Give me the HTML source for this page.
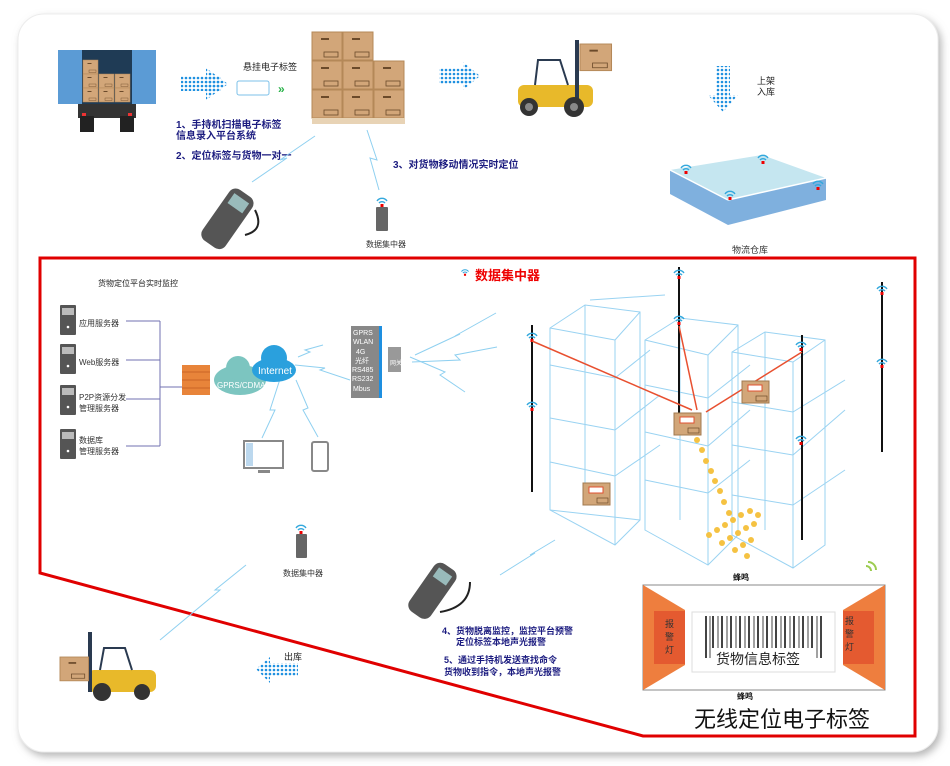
<!DOCTYPE html>
<html><head><meta charset="utf-8"><style>
html,body{margin:0;padding:0;background:#fff;}
svg{display:block;font-family:"Liberation Sans","Noto Sans CJK SC",sans-serif;}
</style></head><body>
<svg width="950" height="766" viewBox="0 0 950 766" xmlns="http://www.w3.org/2000/svg">
<defs>
<filter id="sh" x="-5%" y="-5%" width="110%" height="110%"><feDropShadow dx="3" dy="4" stdDeviation="4" flood-color="#888" flood-opacity="0.6"/></filter>
<pattern id="dots" width="4" height="4" patternUnits="userSpaceOnUse"><circle cx="2" cy="2" r="1.3" fill="#1e90e0"/></pattern>
<g id="box"><rect x="0" y="0" width="30" height="28" fill="#d2a679" stroke="#b48858"/><rect x="9" y="6" width="8" height="2" fill="#6b4a2a"/><rect x="12" y="20" width="14" height="5" fill="none" stroke="#6b4a2a" stroke-width="0.8"/></g>
<g id="wifi"><path d="M-5,-2 a6,6 0 0 1 10,0 M-3,0 a4,4 0 0 1 6,0" stroke="#33a8dd" stroke-width="1.4" fill="none"/><rect x="-1.5" y="1" width="3" height="3" fill="#e00"/></g>
<g id="tbox"><rect x="0" y="0" width="27" height="22" fill="#d2a679" stroke="#a07a50"/><rect x="6" y="4" width="14" height="6" fill="#fff" stroke="#e05030"/><rect x="14" y="15" width="11" height="5" fill="none" stroke="#6b4a2a" stroke-width="0.7"/></g>
<g id="srv"><rect x="0" y="0" width="16" height="30" fill="#555" rx="1"/><rect x="2" y="3" width="12" height="7" fill="#bbb"/><circle cx="8" cy="22" r="1.3" fill="#fff"/></g>
</defs>
<!-- card -->
<rect x="18" y="14" width="920" height="738" rx="26" fill="#fff" stroke="#ececec" filter="url(#sh)"/>
<!-- red border -->
<polygon points="40,258 915,258 915,736 643,736 40,573" fill="none" stroke="#e00000" stroke-width="3"/>

<!-- truck -->
<rect x="78" y="50" width="58" height="54" fill="#1f3b55"/>
<rect x="58" y="50" width="24" height="54" fill="#5b9bd5"/>
<rect x="132" y="50" width="24" height="54" fill="#5b9bd5"/>
<use href="#box" transform="translate(83,60) scale(0.5)"/>
<use href="#box" transform="translate(83,74) scale(0.5)"/><use href="#box" transform="translate(99,74) scale(0.5)"/><use href="#box" transform="translate(115,74) scale(0.5)"/>
<use href="#box" transform="translate(83,88) scale(0.5)"/><use href="#box" transform="translate(99,88) scale(0.5)"/><use href="#box" transform="translate(115,88) scale(0.5)"/>
<rect x="78" y="104" width="58" height="14" fill="#333"/>
<rect x="80" y="116" width="14" height="16" fill="#222"/><rect x="120" y="116" width="14" height="16" fill="#222"/>
<rect x="82" y="113" width="4" height="3" fill="#e33"/><rect x="128" y="113" width="4" height="3" fill="#e33"/>

<!-- dotted arrow 1 -->
<g fill="url(#dots)"><rect x="181" y="76" width="40" height="15"/><polygon points="206,68 228,84 206,100 206,68"/></g>
<text x="243" y="70" font-size="9" fill="#222">悬挂电子标签</text>
<rect x="237" y="81" width="32" height="14" fill="#fff" stroke="#7cc0e8" rx="2"/>
<text x="278" y="93" font-size="12" fill="#2ab34a" font-weight="bold">»</text>
<!-- pallet boxes -->
<use href="#box" transform="translate(312,32)"/><use href="#box" transform="translate(343,32)"/>
<use href="#box" transform="translate(312,61)"/><use href="#box" transform="translate(343,61)"/><use href="#box" transform="translate(374,61)"/>
<use href="#box" transform="translate(312,90)"/><use href="#box" transform="translate(343,90)"/><use href="#box" transform="translate(374,90)"/>
<rect x="312" y="118" width="93" height="6" fill="#e8d3b5"/>
<text x="176" y="128" font-size="10" fill="#1c1c80" font-weight="bold">1、手持机扫描电子标签</text>
<text x="176" y="139" font-size="10" fill="#1c1c80" font-weight="bold">信息录入平台系统</text>
<text x="176" y="159" font-size="10" fill="#1c1c80" font-weight="bold">2、定位标签与货物一对一</text>
<text x="393" y="168" font-size="10" fill="#1c1c80" font-weight="bold">3、对货物移动情况实时定位</text>
<!-- lightning -->
<g stroke="#8fd0f0" fill="none" stroke-width="1">
<polyline points="315,136 280,160 287,158 252,182"/>
<polyline points="367,130 377,160 370,158 379,190"/>
<polyline points="496,313 455,336 460,334 415,355"/>
<polyline points="497,347 455,355 460,360 412,362"/>
<polyline points="465,392 440,375 445,372 410,357"/>
<polyline points="323,345 305,350 310,352 298,357"/>
<polyline points="350,380 320,370 325,368 295,365"/>
<polyline points="280,379 270,410 275,410 262,438"/>
<polyline points="296,380 308,408 303,410 318,437"/>
<polyline points="555,540 530,555 535,553 500,575"/>
<polyline points="246,565 215,590 220,590 160,640"/>
</g>
<!-- forklift top -->
<rect x="518" y="85" width="75" height="22" fill="#e8b92a" rx="6"/>
<path d="M535,85 L538,60 L560,60 L568,85" stroke="#2a3a50" stroke-width="2" fill="none"/>
<rect x="575" y="40" width="4" height="65" fill="#2a3a50"/>
<circle cx="529" cy="107" r="9" fill="#333"/><circle cx="574" cy="107" r="10" fill="#333"/>
<circle cx="529" cy="107" r="4" fill="#888"/><circle cx="574" cy="107" r="4" fill="#888"/>
<use href="#box" transform="translate(580,44) scale(1.05,0.95)"/>
<g fill="url(#dots)"><rect x="439" y="68" width="30" height="16"/><polygon points="463,62 480,76 463,90"/></g>
<!-- down arrow -->
<g fill="url(#dots)"><rect x="716" y="66" width="14" height="30"/><polygon points="708,95 738,95 723,112"/></g>
<text x="757" y="84" font-size="9" fill="#222">上架</text>
<text x="757" y="95" font-size="9" fill="#222">入库</text>
<!-- warehouse -->
<polygon points="670,170 762,155 826,178 728,200" fill="#c5e6f0"/>
<polygon points="670,170 728,200 728,225 670,194" fill="#7fb0de"/>
<polygon points="728,200 826,178 826,200 728,225" fill="#7fb0de"/>
<line x1="670" y1="170" x2="728" y2="200" stroke="#fff" stroke-width="1.5"/><line x1="728" y1="200" x2="826" y2="178" stroke="#fff" stroke-width="1.5"/>
<use href="#wifi" transform="translate(686,170)"/><use href="#wifi" transform="translate(763,160)"/><use href="#wifi" transform="translate(730,196)"/><use href="#wifi" transform="translate(818,186)"/>
<text x="732" y="253" font-size="9" fill="#333">物流仓库</text>
<!-- handheld top -->
<g transform="translate(228,218) rotate(35)"><rect x="-14" y="-30" width="28" height="62" rx="8" fill="#555"/><rect x="-9" y="-24" width="18" height="12" fill="#9bb"/></g>
<path d="M245,235 q20,-5 10,-25" stroke="#222" stroke-width="2" fill="none"/>
<!-- data concentrator top -->
<rect x="376" y="207" width="12" height="24" fill="#666" rx="1"/><use href="#wifi" transform="translate(382,203)"/>
<text x="366" y="247" font-size="8" fill="#333">数据集中器</text>

<!-- bottom left platform -->
<text x="98" y="286" font-size="8" fill="#222">货物定位平台实时监控</text>
<use href="#srv" transform="translate(60,305)"/><text x="79" y="326" font-size="8" fill="#333">应用服务器</text>
<use href="#srv" transform="translate(60,344)"/><text x="79" y="365" font-size="8" fill="#333">Web服务器</text>
<use href="#srv" transform="translate(60,385)"/><text x="79" y="400" font-size="8" fill="#333">P2P资源分发</text><text x="79" y="411" font-size="8" fill="#333">管理服务器</text>
<use href="#srv" transform="translate(60,429)"/><text x="79" y="443" font-size="8" fill="#333">数据库</text><text x="79" y="454" font-size="8" fill="#333">管理服务器</text>
<g stroke="#7070b0" stroke-width="1" fill="none"><line x1="126" y1="321" x2="160" y2="321"/><line x1="126" y1="360" x2="160" y2="360"/><line x1="126" y1="399" x2="160" y2="399"/><line x1="126" y1="446" x2="160" y2="446"/><line x1="160" y1="321" x2="160" y2="446"/><line x1="160" y1="387" x2="183" y2="387"/></g>
<rect x="182" y="365" width="28" height="30" fill="#e8843a"/>
<g stroke="#c05a20" stroke-width="0.8"><line x1="182" y1="372" x2="210" y2="372"/><line x1="182" y1="380" x2="210" y2="380"/><line x1="182" y1="388" x2="210" y2="388"/></g>
<ellipse cx="240" cy="380" rx="26" ry="15" fill="#7cc5c0"/><circle cx="238" cy="368" r="12" fill="#7cc5c0"/>
<text x="217" y="388" font-size="8" fill="#fff">GPRS/CDMA</text>
<ellipse cx="274" cy="370" rx="22" ry="12" fill="#2aa0dd"/><circle cx="274" cy="358" r="13" fill="#2aa0dd"/>
<text x="258" y="374" font-size="10" fill="#fff">Internet</text>
<!-- gateway -->
<rect x="351" y="326" width="28" height="72" fill="#888"/>
<g font-size="7" fill="#fff"><text x="353" y="335">GPRS</text><text x="353" y="344">WLAN</text><text x="356" y="354">4G</text><text x="355" y="363">光纤</text><text x="352" y="372">RS485</text><text x="352" y="381">RS232</text><text x="353" y="391">Mbus</text></g>
<rect x="379" y="326" width="3" height="72" fill="#1e8fe0"/>
<rect x="388" y="347" width="13" height="25" fill="#999"/><text x="390" y="365" font-size="6" fill="#fff">网关</text>
<!-- monitor & phone -->
<rect x="244" y="441" width="39" height="27" fill="#fff" stroke="#888" stroke-width="2"/><rect x="246" y="443" width="7" height="23" fill="#bcd8ee"/><rect x="258" y="470" width="12" height="3" fill="#888"/>
<rect x="312" y="442" width="16" height="29" fill="#fff" stroke="#888" stroke-width="2" rx="2"/>
<!-- title -->
<use href="#wifi" transform="translate(465,273) scale(0.7)"/>
<text x="475" y="280" font-size="13" fill="#e00" font-weight="bold">数据集中器</text>

<!-- shelves -->
<g stroke="#9ad3f2" stroke-width="1" fill="none">
<polygon points="550,328 585,305 640,312 640,520 615,545 550,510"/>
<line x1="550" y1="328" x2="615" y2="340"/><line x1="615" y1="340" x2="640" y2="312"/><line x1="615" y1="340" x2="615" y2="545"/>
<line x1="550" y1="365" x2="615" y2="378"/><line x1="615" y1="378" x2="650" y2="350"/>
<line x1="550" y1="418" x2="615" y2="430"/><line x1="615" y1="430" x2="660" y2="395"/>
<line x1="550" y1="462" x2="615" y2="476"/><line x1="615" y1="476" x2="660" y2="445"/>
<line x1="585" y1="305" x2="585" y2="505"/><line x1="550" y1="510" x2="640" y2="520"/>
<polygon points="645,340 680,318 738,325 738,535 708,565 645,530"/>
<line x1="645" y1="340" x2="708" y2="355"/><line x1="708" y1="355" x2="738" y2="325"/><line x1="708" y1="355" x2="708" y2="565"/>
<line x1="645" y1="385" x2="708" y2="398"/><line x1="708" y1="398" x2="750" y2="365"/>
<line x1="645" y1="432" x2="708" y2="446"/><line x1="708" y1="446" x2="750" y2="410"/>
<line x1="645" y1="480" x2="708" y2="493"/><line x1="708" y1="493" x2="750" y2="460"/>
<line x1="680" y1="318" x2="680" y2="520"/><line x1="590" y1="300" x2="665" y2="295"/>
<polygon points="732,352 765,332 825,340 825,545 793,568 732,535"/>
<line x1="732" y1="352" x2="793" y2="362"/><line x1="793" y1="362" x2="825" y2="340"/><line x1="793" y1="362" x2="793" y2="568"/>
<line x1="732" y1="402" x2="793" y2="412"/><line x1="793" y1="412" x2="845" y2="380"/>
<line x1="732" y1="445" x2="793" y2="455"/><line x1="793" y1="455" x2="845" y2="410"/>
<line x1="732" y1="495" x2="793" y2="505"/><line x1="793" y1="505" x2="845" y2="470"/>
<line x1="765" y1="332" x2="765" y2="530"/>
</g>
<!-- poles -->
<g stroke="#111" stroke-width="2"><line x1="532" y1="325" x2="532" y2="492"/><line x1="679" y1="267" x2="679" y2="420"/><line x1="802" y1="335" x2="802" y2="540"/><line x1="882" y1="282" x2="882" y2="452"/></g>
<use href="#wifi" transform="translate(532,338)"/><use href="#wifi" transform="translate(532,407)"/><use href="#wifi" transform="translate(679,275)"/><use href="#wifi" transform="translate(679,321)"/><use href="#wifi" transform="translate(801,347)"/><use href="#wifi" transform="translate(801,441)"/><use href="#wifi" transform="translate(882,291)"/><use href="#wifi" transform="translate(882,364)"/>
<g stroke="#e85030" stroke-width="1.5"><line x1="532" y1="341" x2="692" y2="410"/><line x1="679" y1="326" x2="697" y2="410"/><line x1="802" y1="352" x2="706" y2="412"/></g>
<use href="#tbox" transform="translate(674,413)"/><use href="#tbox" transform="translate(742,381)"/><use href="#tbox" transform="translate(583,483)"/>
<g fill="#f5c242">
<circle cx="697" cy="440" r="3"/><circle cx="702" cy="450" r="3"/><circle cx="706" cy="461" r="3"/><circle cx="711" cy="471" r="3"/><circle cx="715" cy="481" r="3"/><circle cx="720" cy="491" r="3"/><circle cx="724" cy="502" r="3"/><circle cx="729" cy="513" r="3"/>
<circle cx="709" cy="535" r="3"/><circle cx="717" cy="530" r="3"/><circle cx="725" cy="525" r="3"/><circle cx="733" cy="520" r="3"/><circle cx="741" cy="515" r="3"/><circle cx="750" cy="511" r="3"/><circle cx="758" cy="515" r="3"/>
<circle cx="722" cy="543" r="3"/><circle cx="730" cy="538" r="3"/><circle cx="738" cy="533" r="3"/><circle cx="746" cy="528" r="3"/><circle cx="754" cy="524" r="3"/>
<circle cx="735" cy="550" r="3"/><circle cx="743" cy="545" r="3"/><circle cx="751" cy="540" r="3"/><circle cx="747" cy="556" r="3"/>
</g>
<!-- bottom concentrator -->
<rect x="296" y="534" width="11" height="24" fill="#666" rx="1"/><use href="#wifi" transform="translate(301,530)"/>
<text x="283" y="576" font-size="8" fill="#333">数据集中器</text>
<!-- handheld bottom -->
<g transform="translate(433,590) rotate(35)"><rect x="-13" y="-28" width="26" height="58" rx="8" fill="#555"/><rect x="-8" y="-22" width="16" height="11" fill="#9bb"/></g>
<path d="M440,612 q30,-5 30,-30" stroke="#222" stroke-width="2" fill="none"/>
<text x="442" y="634" font-size="9" fill="#1c1c80" font-weight="bold">4、货物脱离监控，监控平台预警</text>
<text x="456" y="645" font-size="9" fill="#1c1c80" font-weight="bold">定位标签本地声光报警</text>
<text x="444" y="663" font-size="9" fill="#1c1c80" font-weight="bold">5、通过手持机发送查找命令</text>
<text x="444" y="675" font-size="9" fill="#1c1c80" font-weight="bold">货物收到指令，本地声光报警</text>
<!-- tag -->
<path d="M868,562 a8,8 0 0 1 8,8 M866,566 a5,5 0 0 1 5,5" stroke="#9ccc50" stroke-width="2" fill="none"/>
<text x="733" y="580" font-size="8" fill="#111" font-weight="bold">蜂鸣</text>
<rect x="643" y="585" width="242" height="105" fill="#fff" stroke="#888"/>
<polygon points="643,585 685,610 685,665 643,690" fill="#ee7e3e"/>
<polygon points="885,585 843,610 843,665 885,690" fill="#ee7e3e"/>
<rect x="654" y="611" width="31" height="53" fill="#e45a30"/><rect x="843" y="611" width="31" height="53" fill="#e45a30"/>
<g font-size="9" fill="#333"><text x="665" y="627">报</text><text x="665" y="640">警</text><text x="665" y="653">灯</text><text x="845" y="624">报</text><text x="845" y="637">警</text><text x="845" y="650">灯</text></g>
<rect x="692" y="612" width="143" height="60" fill="#fff" stroke="#ddd"/>
<g stroke="#444"><line x1="706" y1="616" x2="706" y2="658" stroke-width="2"/><line x1="710" y1="616" x2="710" y2="658"/><line x1="713" y1="616" x2="713" y2="658" stroke-width="2"/><line x1="718" y1="616" x2="718" y2="658"/><line x1="722" y1="616" x2="722" y2="658" stroke-width="2"/><line x1="727" y1="616" x2="727" y2="658"/><line x1="731" y1="616" x2="731" y2="658" stroke-width="2"/><line x1="736" y1="616" x2="736" y2="658"/><line x1="740" y1="616" x2="740" y2="658" stroke-width="2"/><line x1="745" y1="616" x2="745" y2="658"/><line x1="749" y1="616" x2="749" y2="658" stroke-width="2"/><line x1="754" y1="616" x2="754" y2="658"/><line x1="758" y1="616" x2="758" y2="658" stroke-width="2"/><line x1="763" y1="616" x2="763" y2="658"/><line x1="767" y1="616" x2="767" y2="658" stroke-width="2"/><line x1="772" y1="616" x2="772" y2="658"/><line x1="776" y1="616" x2="776" y2="658" stroke-width="2"/><line x1="781" y1="616" x2="781" y2="658"/><line x1="785" y1="616" x2="785" y2="658" stroke-width="2"/><line x1="790" y1="616" x2="790" y2="658"/><line x1="794" y1="616" x2="794" y2="658" stroke-width="2"/><line x1="799" y1="616" x2="799" y2="658"/><line x1="803" y1="616" x2="803" y2="658" stroke-width="2"/><line x1="808" y1="616" x2="808" y2="658"/><line x1="812" y1="616" x2="812" y2="658" stroke-width="2"/><line x1="817" y1="616" x2="817" y2="658"/><line x1="821" y1="616" x2="821" y2="658" stroke-width="2"/></g>
<rect x="712" y="648" width="104" height="20" fill="#fff"/>
<text x="716" y="664" font-size="14" fill="#222">货物信息标签</text>
<text x="737" y="699" font-size="8" fill="#111" font-weight="bold">蜂鸣</text>
<text x="694" y="727" font-size="22" fill="#111">无线定位电子标签</text>
<!-- forklift bottom -->
<rect x="88" y="670" width="68" height="22" fill="#e8b92a" rx="6"/>
<path d="M100,670 L104,648 L125,648 L132,670" stroke="#2a3a50" stroke-width="2" fill="none"/>
<rect x="88" y="632" width="4" height="60" fill="#2a3a50"/>
<circle cx="102" cy="692" r="9" fill="#333"/><circle cx="142" cy="692" r="8" fill="#333"/>
<use href="#box" transform="translate(60,657) scale(0.95,0.85)"/>
<g fill="url(#dots)"><rect x="268" y="663" width="30" height="13"/><polygon points="270,657 256,669 270,683"/></g>
<text x="284" y="660" font-size="9" fill="#222">出库</text>
</svg>
</body></html>
